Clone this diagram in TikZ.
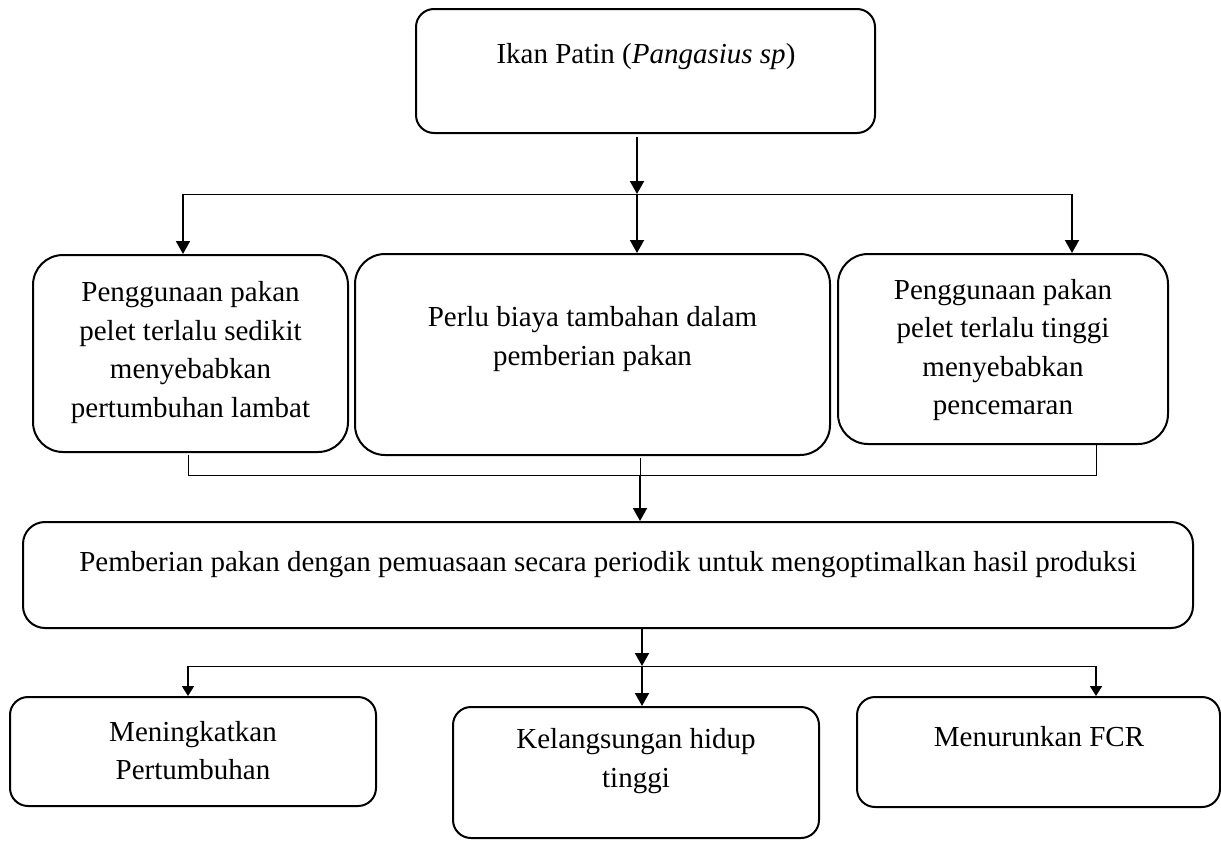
\documentclass[tikz,border=0pt]{standalone}
\usepackage{fontspec}
\setmainfont{Liberation Serif}
\usetikzlibrary{arrows.meta}
\begin{document}
\begin{tikzpicture}[x=1pt,y=-1pt,
  box/.style={draw, line width=2pt, inner sep=0pt},
  txt/.style={align=center, inner sep=0pt, font=\fontsize{29}{38.5}\selectfont},
  thinline/.style={line width=1pt},
  arr/.style={line width=2pt, -{Triangle[length=13pt,width=14pt]}},
  arrs/.style={line width=2pt, -{Triangle[length=10pt,width=12pt]}}]
\useasboundingbox (0,0) rectangle (1221,841);

% boxes
\node[box, rounded corners=18pt, minimum width=459pt, minimum height=124pt] (top) at (645.5,71) {};
\node[box, rounded corners=30pt, minimum width=315pt, minimum height=197pt] (ml) at (190.5,353.5) {};
\node[box, rounded corners=30pt, minimum width=475pt, minimum height=201pt] (mc) at (592.5,354.5) {};
\node[box, rounded corners=30pt, minimum width=330pt, minimum height=190pt] (mr) at (1003,349) {};
\node[box, rounded corners=22pt, minimum width=1170pt, minimum height=106pt] (big) at (608,575) {};
\node[box, rounded corners=18pt, minimum width=366pt, minimum height=109pt] (bl) at (193,751.5) {};
\node[box, rounded corners=18pt, minimum width=366pt, minimum height=131pt] (bm) at (636,772.5) {};
\node[box, rounded corners=18pt, minimum width=363pt, minimum height=110pt] (br) at (1038.5,752) {};

% texts
\node[txt] (t0) at (646,57) {Ikan Patin (\textit{Pangasius sp})};
\node[txt] (t1) at (190.5,352.5) {Penggunaan pakan\\pelet terlalu sedikit\\menyebabkan\\pertumbuhan lambat};
\node[txt] (t2) at (592.5,339) {Perlu biaya tambahan dalam\\pemberian pakan};
\node[txt] (t3) at (1003,350) {Penggunaan pakan\\pelet terlalu tinggi\\menyebabkan\\pencemaran};
\node[txt] (t4) at (608,565) {Pemberian pakan dengan pemuasaan secara periodik untuk mengoptimalkan hasil produksi};
\node[txt] (t5) at (193,750.5) {Meningkatkan\\Pertumbuhan};
\node[txt] (t6) at (636,761) {Kelangsungan hidup\\tinggi};
\node[txt] (t7) at (1039,737) {Menurunkan FCR};

% junction coordinates
\coordinate (j1) at (637,194);
\coordinate (hL) at (183,194);
\coordinate (hR) at (1072,194);
\coordinate (k1) at (640,475);
\coordinate (kL) at (188,475);
\coordinate (kR) at (1096,475);
\coordinate (m1) at (642,666);
\coordinate (mL) at (188,666);
\coordinate (mR) at (1096,666);

% level 1
\draw[arr, shorten <=3pt] (top.south -| j1) -- (j1);
\draw[thinline] (hL) -- (hR);
\draw[arr] (hL) -- (hL |- ml.north);
\draw[arr] (j1) -- (j1 |- mc.north);
\draw[arr] (hR) -- (hR |- mr.north);

% level 2
\draw[thinline, shorten <=2pt] (ml.south -| kL) -- (kL) -- (kR) -- (mr.south -| kR);
\draw[thinline, shorten <=2pt] (mc.south -| k1) -- (k1);
\draw[arr] (k1) -- (k1 |- big.north);

% level 3
\draw[arr] (big.south -| m1) -- (m1);
\draw[thinline] (mL) -- (mR);
\draw[arrs] (mL) -- (mL |- bl.north);
\draw[arr] (m1) -- (m1 |- bm.north);
\draw[arrs] (mR) -- (mR |- br.north);
\end{tikzpicture}
\end{document}
